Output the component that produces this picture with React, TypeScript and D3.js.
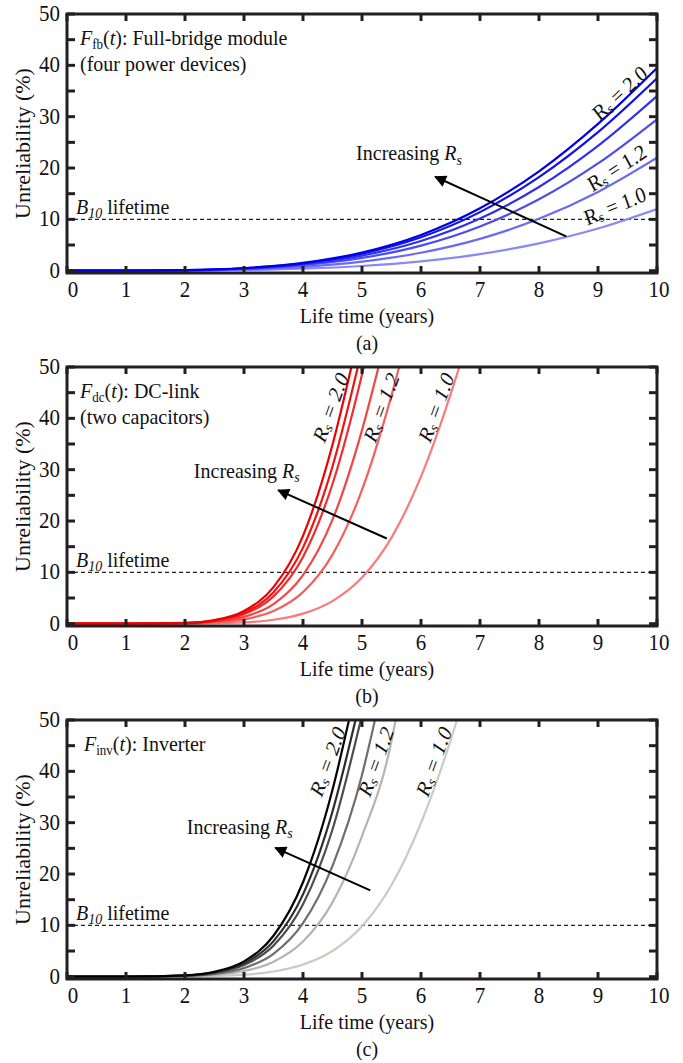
import React from 'react';
import * as d3 from 'd3';

// ---------- data ----------
const X_TICKS = [0, 1, 2, 3, 4, 5, 6, 7, 8, 9, 10];
const Y_TICKS = [0, 10, 20, 30, 40, 50];
const Y_MINOR = [5, 15, 25, 35, 45];
const RS_VALUES = ['2.0', '1.8', '1.6', '1.4', '1.2', '1.0'];

// (a) full-bridge module, Rs = 2.0 ... 1.0
const FB_T = [0, 1, 2, 3, 4, 5, 6, 7, 8, 9, 10];
const FB_RS20 = [0, 0.01, 0.11, 0.52, 1.53, 3.54, 6.96, 12.15, 19.36, 28.6, 39.5];
const FB_RS18 = [0, 0.01, 0.1, 0.48, 1.43, 3.32, 6.52, 11.41, 18.24, 27.0, 37.5];
const FB_RS16 = [0, 0.01, 0.09, 0.43, 1.27, 2.94, 5.79, 10.16, 16.3, 24.3, 34.0];
const FB_RS14 = [0, 0.01, 0.08, 0.36, 1.07, 2.48, 4.89, 8.62, 13.9, 20.89, 29.5];
const FB_RS12 = [0, 0.0, 0.05, 0.26, 0.76, 1.77, 3.5, 6.2, 10.1, 15.34, 22.0];
const FB_RS10 = [0, 0.0, 0.03, 0.13, 0.39, 0.91, 1.82, 3.24, 5.33, 8.21, 12.0];

// (b) DC-link, [t, %] pairs
const DC_RS20 = [[0, 0], [1, 0], [2, 0.15], [2.5, 0.7], [3, 2.48], [3.5, 7.11], [4, 17.12], [4.5, 34.85], [4.82, 50]];
const DC_RS18 = [[0, 0], [1, 0], [2, 0.13], [2.5, 0.6], [3, 2.12], [3.5, 6.11], [4, 14.82], [4.5, 30.63], [4.93, 50]];
const DC_RS16 = [[0, 0], [1, 0], [2, 0.11], [2.5, 0.52], [3, 1.84], [3.5, 5.32], [4, 13.01], [4.5, 27.21], [5, 48.55], [5.03, 50]];
const DC_RS14 = [[0, 0], [1, 0], [2, 0.08], [2.5, 0.37], [3, 1.32], [3.5, 3.82], [4, 9.45], [4.5, 20.26], [5, 37.71], [5.28, 50]];
const DC_RS12 = [[0, 0], [1, 0], [2, 0.05], [2.5, 0.24], [3, 0.84], [3.5, 2.46], [4, 6.14], [4.5, 13.45], [5, 26.06], [5.5, 44.48], [5.63, 50]];
const DC_RS10 = [[0, 0], [1, 0], [2, 0.02], [3, 0.26], [3.5, 0.77], [4, 1.96], [4.5, 4.4], [5, 8.98], [5.5, 16.76], [6, 28.64], [6.5, 44.61], [6.65, 50]];

// (c) inverter, [t, %] pairs
const INV_RS20 = [[0, 0], [1, 0.01], [2, 0.26], [2.5, 0.96], [3, 2.99], [3.5, 7.97], [4, 18.4], [4.5, 36.4], [4.78, 50]];
const INV_RS18 = [[0, 0], [1, 0.01], [2, 0.23], [2.5, 0.84], [3, 2.59], [3.5, 6.93], [4, 16.04], [4.5, 32.19], [4.89, 50]];
const INV_RS16 = [[0, 0], [1, 0.01], [2, 0.2], [2.5, 0.73], [3, 2.26], [3.5, 6.05], [4, 14.11], [4.5, 28.67], [4.98, 50]];
const INV_RS14 = [[0, 0], [1, 0.01], [2, 0.16], [2.5, 0.55], [3, 1.67], [3.5, 4.45], [4, 10.42], [4.5, 21.6], [5, 39.3], [5.22, 50]];
const INV_RS12 = [[0, 0], [1, 0], [2, 0.1], [2.5, 0.37], [3, 1.1], [3.5, 2.92], [4, 6.85], [4.5, 14.48], [5, 27.37], [5.5, 45.9], [5.57, 50]];
const INV_RS10 = [[0, 0], [1, 0], [2, 0.05], [3, 0.39], [3.5, 1.01], [4, 2.35], [4.5, 5.0], [5, 9.81], [5.5, 17.85], [6, 29.94], [6.5, 45.98], [6.61, 50]];

const B10 = 10;

// ---------- styles ----------
const FONT = '"Liberation Serif", "Times New Roman", serif';
const FRAME = '#231f20';
const BLUES = ['#0000e8', '#1111ea', '#3030ec', '#4c4cef', '#6a6af3', '#8888f6'];
const REDS = ['#ee0000', '#f01212', '#f12c2c', '#f24646', '#f45f5f', '#f67c7c'];
const GRAYS = ['#000000', '#2c2c2c', '#4e4e4e', '#6e6e6e', '#b4b4b4', '#cbcac6'];

const LEFT = 67;
const RIGHT = 657;
const PH = 259;
const SY = 1.1; // vertical stretch of lettering
const FS = 20;

type Pt = [number, number];

function T({ x, y, rotate = 0, anchor = 'start', size = FS, children, italic = false, central = false }: any) {
  return (
    <g transform={`translate(${x},${y}) scale(1,${SY}) rotate(${rotate})`}>
      <text
        x={0}
        y={0}
        textAnchor={anchor}
        dominantBaseline={central ? 'central' : 'auto'}
        fontSize={size}
        fontStyle={italic ? 'italic' : 'normal'}
        fill="#111"
      >
        {children}
      </text>
    </g>
  );
}

function RsLabel({ x, y, angle, value, italic }: any) {
  // compensate rotation for the vertical stretch so the visual angle matches
  const a = (Math.atan(Math.tan((angle * Math.PI) / 180) / SY) * 180) / Math.PI;
  return (
    <T x={x} y={y} rotate={a} anchor="middle" central italic={italic}>
      <tspan>R</tspan>
      <tspan fontSize={13} dy={4}>s</tspan>
      <tspan dy={-4}> = {value}</tspan>
    </T>
  );
}

function Panel({ top, series, colors, title, title2, caption, arrow, incPos, labels, labelItalic, titleX }: any) {
  const x = d3.scaleLinear().domain([0, 10]).range([LEFT, RIGHT]);
  const y = d3.scaleLinear().domain([-0.45, 50]).range([top + PH, top]);
  const line = d3
    .line<Pt>()
    .x((d) => x(d[0]))
    .y((d) => y(d[1]))
    .curve(d3.curveMonotoneX);
  const clipId = `clip-${top}`;
  const bottom = top + PH;
  const mid = (LEFT + RIGHT) / 2;
  const arrowId = `arrow-${top}`;
  return (
    <g fontFamily={FONT}>
      <defs>
        <clipPath id={clipId}>
          <rect x={LEFT} y={top} width={RIGHT - LEFT} height={PH} />
        </clipPath>
        <marker id={arrowId} viewBox="0 0 10 10" refX={9} refY={5} markerWidth={14} markerHeight={12} orient="auto" markerUnits="userSpaceOnUse">
          <path d="M0,0 L10,5 L0,10 z" fill="#000" />
        </marker>
      </defs>
      <line x1={LEFT} x2={RIGHT} y1={y(B10)} y2={y(B10)} stroke="#222" strokeWidth={1.3} strokeDasharray="4,3" />
      <g clipPath={`url(#${clipId})`}>
        {series
          .map((s: Pt[], i: number) => ({ s, i }))
          .reverse()
          .map(({ s, i }: any) => (
            <path key={i} d={line(s) || ''} fill="none" stroke={colors[i]} strokeWidth={2.2} />
          ))}
      </g>
      <rect x={LEFT} y={top} width={RIGHT - LEFT} height={PH} fill="none" stroke={FRAME} strokeWidth={3} />
      {X_TICKS.map((t) => (
        <g key={'x' + t}>
          <line x1={x(t)} x2={x(t)} y1={bottom} y2={bottom - 7} stroke={FRAME} strokeWidth={3} />
          <line x1={x(t)} x2={x(t)} y1={top} y2={top + 7} stroke={FRAME} strokeWidth={3} />
          <T x={x(t) + (t === 0 ? 6 : t === 10 ? 2 : 0)} y={bottom + 24} anchor="middle" size={21}>
            {t}
          </T>
        </g>
      ))}
      {[...Y_TICKS, ...Y_MINOR].map((v) => (
        <g key={'y' + v}>
          <line x1={LEFT} x2={LEFT + 8} y1={y(v)} y2={y(v)} stroke={FRAME} strokeWidth={3} />
          <line x1={RIGHT} x2={RIGHT - 8} y1={y(v)} y2={y(v)} stroke={FRAME} strokeWidth={3} />
        </g>
      ))}
      {Y_TICKS.map((v) => (
        <T key={'yl' + v} x={60} y={y(v) + 7} anchor="end" size={21}>
          {v}
        </T>
      ))}
      <T x={23} y={(top + bottom) / 2} rotate={-90} anchor="middle" central>
        Unreliability (%)
      </T>
      <T x={mid + 5} y={bottom + 50} anchor="middle">
        Life time (years)
      </T>
      <T x={mid + 5} y={bottom + 77} anchor="middle">
        {caption}
      </T>
      <T x={titleX} y={top + 31} size={20}>
        <tspan fontStyle="italic">F</tspan>
        <tspan fontSize={13} dy={4}>{title[0]}</tspan>
        <tspan dy={-4}>(</tspan>
        <tspan fontStyle="italic">t</tspan>
        <tspan>): {title[1]}</tspan>
      </T>
      {title2 && (
        <T x={titleX} y={top + 57} size={20}>
          {title2}
        </T>
      )}
      <T x={76} y={y(B10) - 5}>
        <tspan fontStyle="italic">B</tspan>
        <tspan fontStyle="italic" fontSize={14} dy={3}>10</tspan>
        <tspan dy={-3}> lifetime</tspan>
      </T>
      <T x={x(incPos[0])} y={y(incPos[1])}>
        Increasing <tspan fontStyle="italic">R</tspan>
        <tspan fontStyle="italic" fontSize={14} dy={4}>s</tspan>
      </T>
      <line
        x1={x(arrow[0][0])}
        y1={y(arrow[0][1])}
        x2={x(arrow[1][0])}
        y2={y(arrow[1][1])}
        stroke="#000"
        strokeWidth={2}
        markerEnd={`url(#${arrowId})`}
      />
      {labels.map((l: any, i: number) => (
        <RsLabel key={i} x={x(l[0])} y={y(l[1])} angle={l[2]} value={l[3]} italic={labelItalic} />
      ))}
    </g>
  );
}

const FB_SERIES = [FB_RS20, FB_RS18, FB_RS16, FB_RS14, FB_RS12, FB_RS10].map((vals) =>
  FB_T.map((t, i) => [t, vals[i]] as Pt)
);
const DC_SERIES = [DC_RS20, DC_RS18, DC_RS16, DC_RS14, DC_RS12, DC_RS10];
const INV_SERIES = [INV_RS20, INV_RS18, INV_RS16, INV_RS14, INV_RS12, INV_RS10];

export default function App() {
  return (
    <svg width={683} height={1063} style={{ position: 'absolute', left: 0, top: 0, background: '#fff' }}>
      <rect width={683} height={1063} fill="#fff" />
      <Panel
        top={14}
        series={FB_SERIES}
        colors={BLUES}
        title={['fb', 'Full-bridge module']}
        title2="(four power devices)"
        titleX={80}
        caption="(a)"
        arrow={[[8.46, 6.7], [6.24, 18.3]]}
        incPos={[4.9, 21.5]}
        labels={[
          [9.37, 34.6, -43, RS_VALUES[0]],
          [9.32, 20.0, -33, RS_VALUES[4]],
          [9.29, 12.6, -23, RS_VALUES[5]],
        ]}
        labelItalic={false}
      />
      <Panel
        top={367}
        series={DC_SERIES}
        colors={REDS}
        title={['dc', 'DC-link']}
        title2="(two capacitors)"
        titleX={80}
        caption="(b)"
        arrow={[[5.42, 16.6], [3.58, 26.0]]}
        incPos={[2.15, 28.4]}
        labels={[
          [4.47, 42.1, -70, RS_VALUES[0]],
          [5.33, 42.1, -70, RS_VALUES[4]],
          [6.26, 42.1, -70, RS_VALUES[5]],
        ]}
        labelItalic={true}
      />
      <Panel
        top={720}
        series={INV_SERIES}
        colors={GRAYS}
        title={['inv', 'Inverter']}
        title2={null}
        titleX={84}
        caption="(c)"
        arrow={[[5.14, 16.8], [3.53, 25.1]]}
        incPos={[2.03, 27.8]}
        labels={[
          [4.42, 41.9, -70, RS_VALUES[0]],
          [5.24, 41.9, -70, RS_VALUES[4]],
          [6.22, 41.9, -70, RS_VALUES[5]],
        ]}
        labelItalic={true}
      />
    </svg>
  );
}
